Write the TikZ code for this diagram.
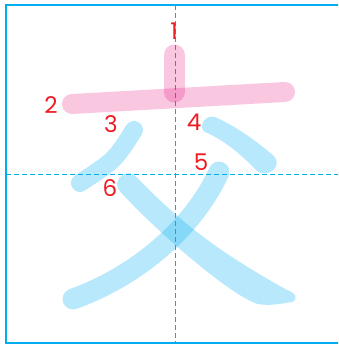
\documentclass[tikz,border=0pt]{standalone}
\usepackage{fontspec}
\setmainfont{Poppins}
\usepackage{tikz}

\definecolor{gridblue}{RGB}{0,174,239}
\definecolor{strokepink}{RGB}{230,0,120}
\definecolor{numred}{RGB}{237,28,36}
\tikzset{
  pinkstroke/.style={line width=21pt, line cap=round, draw=strokepink, opacity=0.22},
  bluestroke/.style={line width=20pt, line cap=round, draw=gridblue, opacity=0.28},
  bluefill/.style={fill=gridblue, opacity=0.28},
  guide/.style={draw=gridblue, line width=1.1pt, dash pattern=on 5pt off 3pt},
  num/.style={text=numred, font=\fontsize{23}{23}\selectfont, inner sep=0pt}
}

\begin{document}
\begin{tikzpicture}[x=1pt, y=-1pt]
  \useasboundingbox (0,0) rectangle (338,347);
  \clip (0,0) rectangle (338,347);
  \draw[gridblue, line width=2.5pt] (345,5) -- (6,5) -- (6,343) -- (345,343);
  \draw[guide] (175.5,5) -- (175.5,343);
  \draw[guide] (6,174.5) -- (338,174.5);

  \draw[pinkstroke] (174,55) -- (174,92);
  \draw[pinkstroke, line width=20pt] (72,104) -- (285,92);

  \draw[bluestroke, line width=18pt] (134,130) .. controls (115,160) .. (80,183);
  \fill[bluefill] (215,117) .. controls (240,128) and (262,146) .. (274,156)
    .. controls (283,166) and (268,179) .. (257,171)
    .. controls (240,153) and (222,139) .. (205,132)
    .. controls (198,128) and (204,114) .. (215,117) -- cycle;
  \draw[bluestroke, line width=21pt] (219,172) .. controls (195,225) and (140,275) .. (73,299);
  \fill[bluefill] (135.8,176.3) .. controls (178,220) and (215,250) .. (287,290)
    .. controls (296,293) and (299,299) .. (292,302)
    .. controls (280,304) and (268,306) .. (258,304)
    .. controls (235,298) and (165,240) .. (120.2,191.7)
    .. controls (110.4,181.8) and (126,166.4) .. (135.8,176.3) -- cycle;

  \node[num] (n1) at (174,31) {1};
  \node[num] (n2) at (51,105) {2};
  \node[num] (n3) at (111,124) {3};
  \node[num] (n4) at (194,122) {4};
  \node[num] (n5) at (201,162) {5};
  \node[num] (n6) at (110,188) {6};
\end{tikzpicture}
\end{document}
